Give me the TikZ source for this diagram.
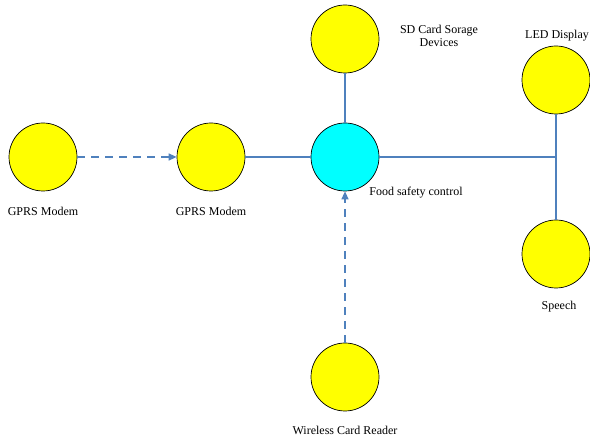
\documentclass[tikz,border=0pt]{standalone}
\usepackage{fontspec}
\setmainfont{Liberation Serif}
\usepackage{xcolor}
\usepackage{tikz}
\usetikzlibrary{arrows.meta}

\definecolor{linkblue}{RGB}{79,129,189}
\definecolor{unityellow}{RGB}{255,255,0}
\definecolor{hubcyan}{RGB}{0,255,255}

\begin{document}
\begin{tikzpicture}[x=1pt, y=-1pt, font=\rmfamily\fontsize{12}{13.5}\selectfont,
  unit/.style={circle, draw=black, line width=0.7pt, fill=unityellow, minimum size=68pt, inner sep=0pt},
  hub/.style={unit, fill=hubcyan},
  link/.style={draw=linkblue, line width=1.3pt},
  wless/.style={link, dashed, dash pattern=on 8pt off 6pt, -{Triangle[length=8pt,width=7pt]}},
  lbl/.style={inner sep=0pt, align=center}]
\useasboundingbox (0,0) rectangle (590,438);
% devices
\node[unit] (gprsA) at (43,157) {};
\node[unit] (gprsB) at (211,157) {};
\node[hub] (ctrl) at (345,157) {};
\node[unit] (sd) at (345,39) {};
\node[unit] (led) at (556,80) {};
\node[unit] (speech) at (556,254) {};
\node[unit] (reader) at (345,377) {};
\coordinate (jn) at (556,157);
% labels
\node[lbl] (gprsAtxt) at (43,211) {GPRS Modem};
\node[lbl] (gprsBtxt) at (211,211) {GPRS Modem};
\node[lbl] (ctrltxt) at (416,193) {Food safety control};
\node[lbl] (sdtxt) at (439,36) {SD Card Sorage\\ Devices};
\node[lbl] (ledtxt) at (557,36) {LED Display};
\node[lbl] (speechtxt) at (559,307) {Speech};
\node[lbl] (readertxt) at (345,430) {Wireless Card Reader};
% links
\draw[wless] (gprsA) -- (gprsB);
\draw[wless] (reader) -- (ctrl);
\draw[link] (gprsB) -- (ctrl);
\draw[link] (ctrl) -- (sd);
\draw[link] (ctrl) -- (jn);
\draw[link] (led) -- (jn) -- (speech);
\end{tikzpicture}
\end{document}
